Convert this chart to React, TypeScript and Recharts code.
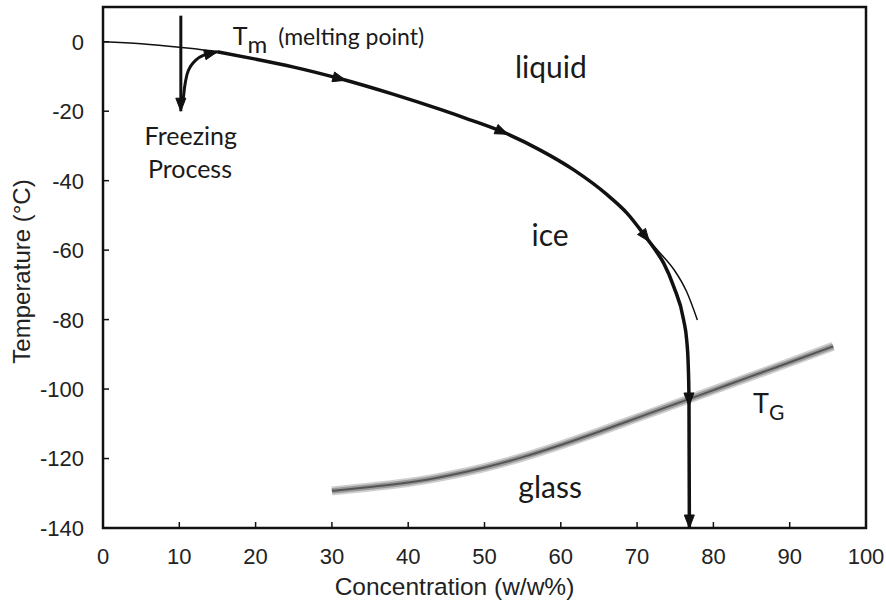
import React from "react";
import { LineChart, Line, XAxis, YAxis, ReferenceArea, ReferenceDot } from "recharts";

// axis ticks
const xTicks = [0, 10, 20, 30, 40, 50, 60, 70, 80, 90, 100];
const yTicks = [0, -20, -40, -60, -80, -100, -120, -140];

// equilibrium melting curve (thin), concentration w/w% vs temperature °C
const meltX = [0, 5, 10, 15, 20, 25, 31, 38, 44.2, 48, 52.3, 57.3, 61.7, 66.1, 68.7, 71.1, 73, 74.8, 76.5, 77.9];
const meltT = [0, -0.6, -1.6, -2.9, -5.0, -7.3, -10.6, -15.1, -19.5, -22.4, -25.9, -31.2, -36.9, -44.1, -49.4, -56.1, -60.8, -65.5, -72, -80.1];

// cooling path of the freeze-concentrated solution (thick)
const coolX = [15, 20, 25, 31, 38, 44.2, 48, 52.3, 57.3, 61.7, 66.1, 68.7, 71.1, 72.5, 73.5, 74.8, 76.1, 76.5, 76.7, 76.8, 76.85];
const coolT = [-2.9, -5.0, -7.3, -10.6, -15.1, -19.5, -22.4, -25.9, -31.2, -36.9, -44.1, -49.4, -56.1, -60.3, -63.8, -70.5, -80.1, -85.9, -93, -103, -140];
const coolArrows = [31, 52.3, 71.1, 76.8];

// freezing process: supercooling drop and recovery to Tm
const dropX = [10.2, 10.2];
const dropT = [7.5, -20];
const recoverX = [10.5, 10.7, 11, 11.5, 12.2, 13.3, 15];
const recoverT = [-17, -13, -9.5, -7, -5.2, -3.8, -2.9];

// glass transition line TG
const glassX = [30, 35, 40, 45, 50, 55, 60, 65, 70, 76.5, 82, 87, 91, 95.7];
const glassT = [-129.3, -128.2, -126.9, -125, -122.6, -119.6, -116.1, -112.3, -108.3, -103.1, -98.7, -94.7, -91.5, -87.7];

type Pt = { x: number; y: number; arrow?: "mid" | "end" };

function toPoints(xs: number[], ys: number[], mids: number[] = [], endArrow = false): Pt[] {
  return xs.map((x, i) => {
    const p: Pt = { x, y: ys[i] };
    if (mids.includes(x)) p.arrow = "mid";
    if (endArrow && i === xs.length - 1) p.arrow = "end";
    return p;
  });
}

const meltData = toPoints(meltX, meltT);
const coolData = toPoints(coolX, coolT, coolArrows, true);
const dropData = toPoints(dropX, dropT, [], true);
const recoverData = toPoints(recoverX, recoverT, [], true);
const glassData = toPoints(glassX, glassT);

const INK = "#111";
const TICK_FONT = "'Liberation Sans', Arial, sans-serif";
const NOTE_FONT = "Lato, 'Open Sans', sans-serif";

// arrowhead drawn on flagged points, oriented along the line in pixel space
function arrowDot(props: any) {
  const { cx, cy, index, payload, points } = props;
  if (!payload || !payload.arrow || !points) return <g key={`d-${index}`} />;
  const prev = points[Math.max(0, index - 1)];
  const next = points[Math.min(points.length - 1, index + 1)];
  const ang = Math.atan2(next.y - prev.y, next.x - prev.x);
  const L = 13;
  const W = 5;
  const tip = payload.arrow === "end" ? 0 : L / 2;
  const pts = [
    [tip, 0],
    [tip - L, W],
    [tip - L, -W],
  ]
    .map(([a, b]) => {
      const px = cx + a * Math.cos(ang) - b * Math.sin(ang);
      const py = cy + a * Math.sin(ang) + b * Math.cos(ang);
      return `${px},${py}`;
    })
    .join(" ");
  return <polygon key={`d-${index}`} points={pts} fill={INK} stroke={INK} strokeWidth={1} />;
}

const XTick = (p: any) => {
  const axisY = p.y - 20;
  return (
    <g>
      <line x1={p.x} x2={p.x} y1={axisY} y2={axisY - 6} stroke={INK} strokeWidth={1.5} />
      <text x={p.x} y={axisY + 36} textAnchor="middle" fontSize={22} fontFamily={TICK_FONT} fill="#222">
        {p.payload.value}
      </text>
    </g>
  );
};

const YTick = (p: any) => {
  const axisX = p.x + 19;
  return (
    <g>
      <line x1={axisX} x2={axisX + 6} y1={p.y} y2={p.y} stroke={INK} strokeWidth={1.5} />
      <text x={p.x} y={p.y} dy="0.36em" textAnchor="end" fontSize={22} fontFamily={TICK_FONT} fill="#222">
        {p.payload.value}
      </text>
    </g>
  );
};

function note(content: (x: number, y: number) => React.ReactNode) {
  return {
    content: (p: any) => {
      const vb = p.viewBox || {};
      return content((vb.x || 0) + (vb.width || 0) / 2, (vb.y || 0) + (vb.height || 0) / 2);
    },
  };
}

export default function App() {
  return (
    <div style={{ position: "absolute", left: 0, top: 0, background: "#fff" }}>
      <LineChart width={886} height={603} margin={{ top: 7, right: 20, bottom: 0, left: 0 }}>
        <XAxis
          type="number"
          dataKey="x"
          domain={[0, 100]}
          ticks={xTicks}
          height={75}
          axisLine={false}
          tickLine={false}
          tickSize={0}
          tickMargin={20}
          tick={<XTick />}
          label={{
            content: (p: any) => {
              const vb = p.viewBox;
              return (
                <text
                  x={vb.x + vb.width / 2 - 30}
                  y={vb.y + 67}
                  textAnchor="middle"
                  fontSize={24.5}
                  fontFamily={TICK_FONT}
                  fill="#222"
                >
                  Concentration (w/w%)
                </text>
              );
            },
          }}
        />
        <YAxis
          type="number"
          dataKey="y"
          domain={[-140, 10]}
          ticks={yTicks}
          width={103}
          axisLine={false}
          tickLine={false}
          tickSize={0}
          tickMargin={19}
          tick={<YTick />}
          label={{
            content: (p: any) => {
              const vb = p.viewBox;
              const cx = vb.x + 22;
              const cy = vb.y + vb.height / 2 + 4;
              return (
                <text
                  transform={`translate(${cx},${cy}) rotate(-90)`}
                  textAnchor="middle"
                  dy="0.35em"
                  fontSize={24}
                  fontFamily={TICK_FONT}
                  fill="#222"
                >
                  Temperature (°C)
                </text>
              );
            },
          }}
        />

        <Line data={glassData} dataKey="y" type="monotone" stroke="#cfcfcf" strokeWidth={9} dot={false} isAnimationActive={false} />
        <Line data={glassData} dataKey="y" type="monotone" stroke="#9a9a9a" strokeWidth={5.5} dot={false} isAnimationActive={false} />
        <Line data={glassData} dataKey="y" type="monotone" stroke="#555" strokeWidth={2} dot={false} isAnimationActive={false} />

        <Line data={meltData} dataKey="y" type="monotone" stroke={INK} strokeWidth={1.5} dot={false} isAnimationActive={false} />
        <Line data={coolData} dataKey="y" type="monotone" stroke={INK} strokeWidth={3.5} dot={arrowDot} activeDot={false} isAnimationActive={false} />
        <Line data={dropData} dataKey="y" type="linear" stroke={INK} strokeWidth={3} dot={arrowDot} activeDot={false} isAnimationActive={false} />
        <Line data={recoverData} dataKey="y" type="monotone" stroke={INK} strokeWidth={3} dot={arrowDot} activeDot={false} isAnimationActive={false} />

        <ReferenceArea x1={0} x2={100} y1={-140} y2={10} fill="none" stroke={INK} strokeWidth={2.5} />

        <ReferenceDot x={17} y={-0.95} r={0} fill="none" stroke="none" label={note((x, y) => (
          <text x={x} y={y} fontFamily={NOTE_FONT} fill="#1a1a1a">
            <tspan fontSize={25}>T</tspan>
            <tspan fontSize={24} dy={8}>m</tspan>
            <tspan fontSize={23} dy={-8} dx={11}>(melting point)</tspan>
          </text>
        ))} />
        <ReferenceDot x={58.7} y={-10.5} r={0} fill="none" stroke="none" label={note((x, y) => (
          <text x={x} y={y} textAnchor="middle" fontSize={30} fontFamily={NOTE_FONT} fill="#1a1a1a">liquid</text>
        ))} />
        <ReferenceDot x={58.6} y={-58.8} r={0} fill="none" stroke="none" label={note((x, y) => (
          <text x={x} y={y} textAnchor="middle" fontSize={30} fontFamily={NOTE_FONT} fill="#1a1a1a">ice</text>
        ))} />
        <ReferenceDot x={58.6} y={-131.3} r={0} fill="none" stroke="none" label={note((x, y) => (
          <text x={x} y={y} textAnchor="middle" fontSize={30} fontFamily={NOTE_FONT} fill="#1a1a1a">glass</text>
        ))} />
        <ReferenceDot x={11.5} y={-29.7} r={0} fill="none" stroke="none" label={note((x, y) => (
          <text x={x} y={y} textAnchor="middle" fontSize={25} fontFamily={NOTE_FONT} fill="#1a1a1a">Freezing</text>
        ))} />
        <ReferenceDot x={11.4} y={-39.2} r={0} fill="none" stroke="none" label={note((x, y) => (
          <text x={x} y={y} textAnchor="middle" fontSize={25} fontFamily={NOTE_FONT} fill="#1a1a1a">Process</text>
        ))} />
        <ReferenceDot x={85.2} y={-107} r={0} fill="none" stroke="none" label={note((x, y) => (
          <text x={x} y={y} fontFamily={NOTE_FONT} fill="#1a1a1a">
            <tspan fontSize={27}>T</tspan>
            <tspan fontSize={21} dy={7}>G</tspan>
          </text>
        ))} />
      </LineChart>
    </div>
  );
}
